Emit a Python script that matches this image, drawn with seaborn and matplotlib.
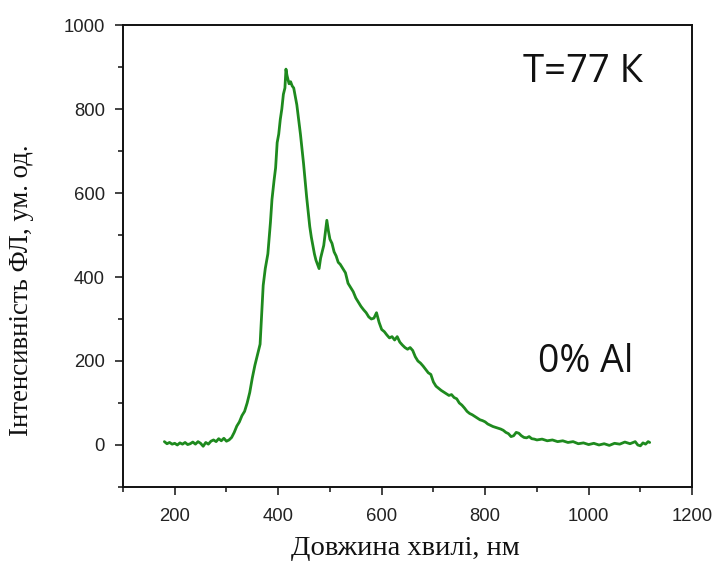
import matplotlib
matplotlib.use("Agg")
import matplotlib.pyplot as plt
from matplotlib.ticker import MultipleLocator
import seaborn as sns
import pandas as pd

# Photoluminescence spectrum at 77 K, undoped sample (0% Al)
wavelength_nm = [
    180, 185, 190, 195, 200, 205, 210, 215, 220, 225, 230, 235, 240, 245, 250,
    255, 260, 265, 270, 275, 280, 285, 290, 295, 300, 305, 310, 315, 320, 325,
    330, 335, 340, 345, 350, 355, 360, 365, 368, 371, 375, 380, 385, 388, 392,
    395, 398, 401, 404, 407, 410, 413, 415, 417, 419, 421, 424, 427, 430, 433,
    436, 440, 443, 446, 449, 452, 455, 458, 461, 464, 467, 470, 473, 476, 479,
    482, 485, 488, 491, 494, 497, 500, 504, 508, 512, 516, 520, 525, 530, 535,
    540, 545, 550, 555, 560, 565, 570, 575, 580, 585, 590, 595, 600, 605, 610,
    615, 620, 625, 630, 635, 640, 645, 650, 655, 660, 665, 670, 675, 680, 685,
    690, 695, 700, 705, 710, 715, 720, 725, 730, 735, 740, 745, 750, 755, 760,
    765, 770, 775, 780, 785, 790, 795, 800, 805, 810, 815, 820, 825, 830, 835,
    840, 845, 850, 855, 860, 865, 870, 875, 880, 885, 890, 895, 900, 910, 920,
    930, 940, 950, 960, 970, 980, 990, 1000, 1010, 1020, 1030, 1040, 1050, 1060,
    1070, 1080, 1090, 1095, 1100, 1105, 1110, 1115, 1118,
]
intensity = [
    8, 3, 6, 2, 4, 0, 5, 2, 6, 1, 3, 7, 2, 8, 4,
    -3, 6, 2, 9, 12, 8, 15, 10, 16, 9, 12, 18, 30, 45, 55,
    70, 80, 100, 125, 160, 190, 215, 240, 310, 380, 420, 455, 530, 585, 630,
    660, 720, 740, 775, 800, 835, 850, 895, 880, 870, 860, 865, 855, 850, 830,
    810, 770, 740, 705, 670, 630, 590, 555, 520, 495, 475, 455, 440, 430, 420,
    445, 460, 475, 505, 535, 510, 490, 480, 460, 450, 435, 430, 420, 410, 385,
    375, 365, 350, 340, 330, 322, 315, 305, 300, 302, 315, 292, 275, 270, 262,
    255, 258, 250, 258, 245, 238, 232, 228, 232, 225, 210, 200, 195, 188, 180,
    172, 168, 150, 140, 135, 130, 126, 122, 118, 120, 113, 110, 100, 95, 88,
    80, 75, 72, 68, 64, 60, 58, 55, 50, 47, 44, 42, 40, 38, 35,
    30, 27, 20, 22, 30, 28, 22, 18, 17, 20, 15, 14, 12, 14, 10,
    12, 8, 10, 6, 8, 3, 5, 1, 4, 0, 3, -1, 4, 2,
    7, 3, 8, 0, -2, 5, 2, 8, 6,
]

x_ticks = [200, 400, 600, 800, 1000, 1200]
y_ticks = [0, 200, 400, 600, 800, 1000]

df = pd.DataFrame({"wavelength": wavelength_nm, "intensity": intensity})

sns.set_style("ticks")
plt.rcParams["font.family"] = ["Liberation Sans", "DejaVu Sans"]

fig = plt.figure(figsize=(7.15, 5.66), dpi=100)
ax = fig.add_axes([0.172, 0.1396, 0.796, 0.8162])

sns.lineplot(data=df, x="wavelength", y="intensity", ax=ax,
             color="#1e8a1e", linewidth=2.0, estimator=None)

ax.set_xlim(100, 1200)
ax.set_ylim(-100, 1000)
ax.set_xticks(x_ticks)
ax.set_yticks(y_ticks)
ax.xaxis.set_minor_locator(MultipleLocator(100))
ax.yaxis.set_minor_locator(MultipleLocator(100))
ax.tick_params(which="major", length=6, width=1.2, labelsize=13.3,
               color="#222222", labelcolor="#222222")
ax.tick_params(axis="y", which="major", pad=7)
ax.tick_params(axis="x", which="major", pad=9)
ax.tick_params(which="minor", length=3.5, width=1.2, color="#222222")

for side in ax.spines.values():
    side.set_visible(True)
    side.set_linewidth(1.4)
    side.set_color("#111111")

ax.set_xlabel("Довжина хвилі, нм", family=["Liberation Serif", "DejaVu Serif"],
              fontsize=20.5, color="#111111")
ax.xaxis.set_label_coords(0.497, -0.106)
ax.set_ylabel("Інтенсивність ФЛ, ум. од.", family=["Liberation Serif", "DejaVu Serif"],
              fontsize=19.3, color="#111111")
ax.yaxis.set_label_coords(-0.157, 0.426)

ax.text(0.914, 0.898, "T=77 К", transform=ax.transAxes, ha="right", va="center",
        family=["Open Sans", "DejaVu Sans"], fontsize=27.5, color="#111111")
ax.text(0.896, 0.27, "0% Al", transform=ax.transAxes, ha="right", va="center",
        family=["Open Sans", "DejaVu Sans"], fontsize=27, color="#111111")

fig.savefig("out.png", dpi=100, facecolor="white")
